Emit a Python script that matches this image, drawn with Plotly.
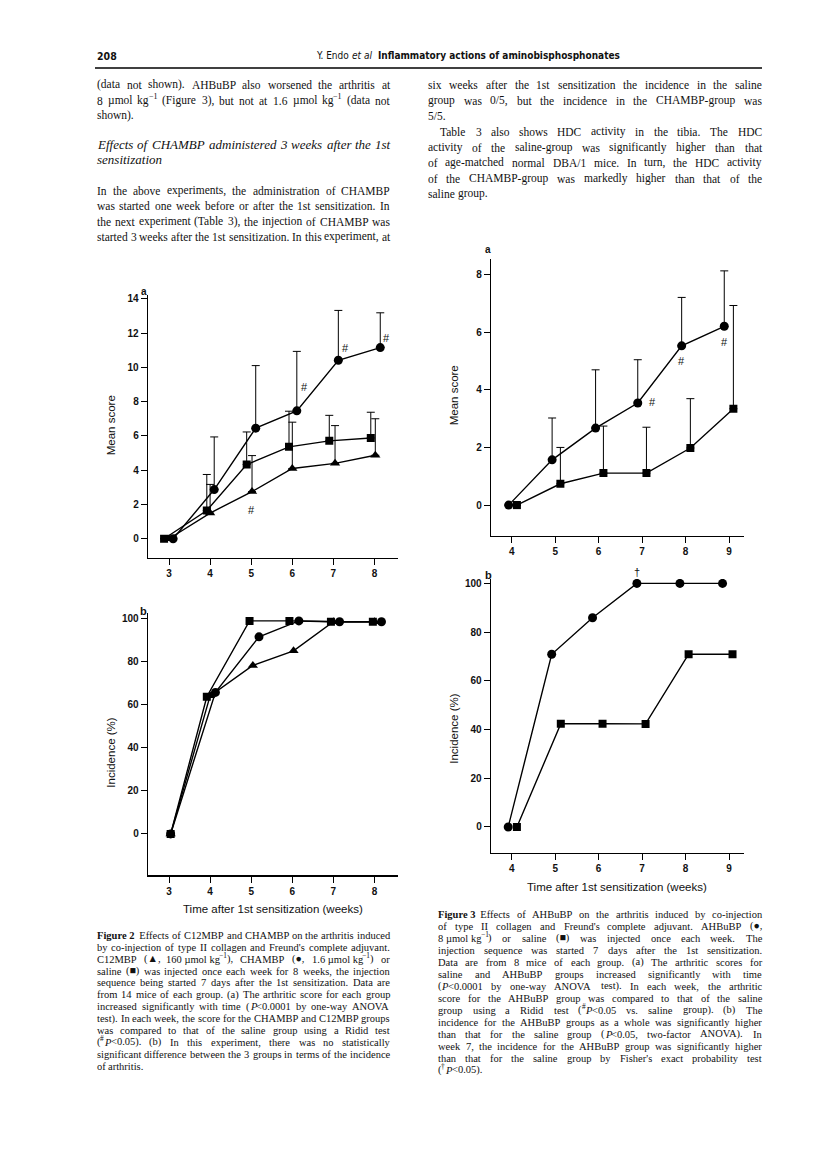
import re
import plotly.graph_objects as go

W, H = 816, 1151

def px(x):
    return x / W

def py(y):
    return 1 - y / H

# ---------------- DATA ----------------
# Figure 2 (14 mice per group)
weeks2 = [3, 4, 5, 6, 7, 8]
c12mbp_score = [0, 1.5, 2.75, 4.1, 4.4, 4.87]
c12mbp_err = [None, 1.67, 2.1, 2.7, 2.2, 2.13]
chambp_score = [0, 2.87, 6.45, 7.46, 10.41, 11.15]
chambp_err = [None, 3.07, 3.65, 3.47, 2.91, 2.03]
saline2_score = [0, 1.65, 4.33, 5.36, 5.71, 5.88]
saline2_err = [None, 2.1, 1.9, 2.08, 1.49, 1.5]

c12mbp_inc = [0, 64.1, 78.2, 85.0, 98.5, 98.5]
chambp_inc = [0, 65.7, 91.5, 98.9, 98.5, 98.5]
saline2_inc = [0, 63.7, 98.9, 98.9, 98.5, 98.5]

sig2_weeks = [5, 6, 7, 8]
sig2_vals = [1.65, 8.83, 11.1, 11.7]

# Figure 3 (8 mice per group)
weeks3 = [4, 5, 6, 7, 8, 9]
ahbubp_score = [0, 1.57, 2.67, 3.54, 5.52, 6.2]
ahbubp_err = [None, 1.45, 2.02, 1.5, 1.68, 1.92]
saline3_score = [0, 0.74, 1.11, 1.11, 1.98, 3.34]
saline3_err = [None, 1.26, 1.63, 1.59, 1.71, 3.58]

ahbubp_inc = [0, 70.9, 85.9, 100, 100, 100]
saline3_inc = [0, 42.4, 42.4, 42.3, 70.9, 70.9]

sig3_weeks = [7, 8, 9]
sig3_vals = [3.57, 5.0, 5.64]
dagger_week = 7
dagger_val = 104.5

x_ticks2 = [3, 4, 5, 6, 7, 8]
x_ticks3 = [4, 5, 6, 7, 8, 9]
score_ticks2 = [0, 2, 4, 6, 8, 10, 12, 14]
score_ticks3 = [0, 2, 4, 6, 8]
inc_ticks = [0, 20, 40, 60, 80, 100]

# small horizontal jitter (weeks) the original uses to separate symbols
J2A = {"tri": [0.0, 0.0, 0.02, 0.0, 0.04, 0.02],
       "circ": [0.1, 0.1, 0.11, 0.11, 0.12, 0.14],
       "sq": [-0.12, -0.08, -0.11, -0.08, -0.1, -0.09]}
J2B = {"tri": [0.04, 0.0, 0.04, 0.03, 0.0, 0.0],
       "circ": [0.04, 0.13, 0.19, 0.16, 0.15, 0.17],
       "sq": [0.04, -0.08, -0.04, -0.07, -0.06, -0.04]}
J3A = {"circ": [-0.07, -0.07, -0.07, -0.1, -0.09, -0.11],
       "sq": [0.12, 0.12, 0.11, 0.1, 0.11, 0.1]}
J3B = {"circ": [-0.08, -0.08, -0.14, -0.12, -0.13, -0.15],
       "sq": [0.12, 0.13, 0.09, 0.08, 0.07, 0.08]}

# ---------------- FIGURE ----------------
fig = go.Figure()
LINE = dict(color="black", width=1.4)


def shift(xs, d):
    return [x + o for x, o in zip(xs, d)]


def add_series(xs, ys, symbol, size, xa, ya, err=None):
    kw = {}
    if err is not None:
        kw["error_y"] = dict(type="data", symmetric=False, array=err,
                             arrayminus=[0] * len(err), color="black",
                             thickness=1, width=4)
    fig.add_trace(go.Scatter(x=xs, y=ys, mode="lines+markers", line=LINE,
                             marker=dict(symbol=symbol, size=size, color="black"),
                             xaxis=xa, yaxis=ya, showlegend=False,
                             hoverinfo="skip", **kw))

# 2a
add_series(shift(weeks2, J2A["tri"]), c12mbp_score, "triangle-up", 9, "x", "y", c12mbp_err)
add_series(shift(weeks2, J2A["sq"]), saline2_score, "square", 8, "x", "y", saline2_err)
add_series(shift(weeks2, J2A["circ"]), chambp_score, "circle", 9, "x", "y", chambp_err)
# 2b
add_series(shift(weeks2, J2B["tri"]), c12mbp_inc, "triangle-up", 9, "x2", "y2")
add_series(shift(weeks2, J2B["circ"]), chambp_inc, "circle", 9, "x2", "y2")
add_series(shift(weeks2, J2B["sq"]), saline2_inc, "square", 8, "x2", "y2")
# 3a
add_series(shift(weeks3, J3A["circ"]), ahbubp_score, "circle", 9, "x3", "y3", ahbubp_err)
add_series(shift(weeks3, J3A["sq"]), saline3_score, "square", 8, "x3", "y3", saline3_err)
# 3b
add_series(shift(weeks3, J3B["circ"]), ahbubp_inc, "circle", 9, "x4", "y4")
add_series(shift(weeks3, J3B["sq"]), saline3_inc, "square", 8, "x4", "y4")

TICKFONT = dict(family="Liberation Sans, Arial, sans-serif", size=10, color="#111",
                weight="bold")


def xax(dom, rng, ticks, anchor):
    return dict(domain=[px(dom[0]), px(dom[1])], range=rng, tickvals=ticks,
                showline=True, linecolor="black", linewidth=1.3, ticks="outside",
                ticklen=6, tickwidth=1, tickcolor="black", showgrid=False,
                zeroline=False, tickfont=TICKFONT, anchor=anchor, fixedrange=True)


def yax(dom, rng, ticks, anchor):
    return dict(domain=[py(dom[1]), py(dom[0])], range=rng, tickvals=ticks,
                showline=True, linecolor="black", linewidth=1.3, ticks="outside",
                ticklen=6, tickwidth=1, tickcolor="black", showgrid=False,
                zeroline=False, tickfont=TICKFONT, anchor=anchor, fixedrange=True)

X2 = (148, 398)
X3 = (491, 744)
xr2 = [2.489, 8.572]
xr3 = [3.524, 9.344]
Y4 = (578, 852)
yr4 = [-10.5, 101.8]

fig.update_layout(
    width=W, height=H, margin=dict(l=0, r=0, t=0, b=0),
    paper_bgcolor="white", plot_bgcolor="white",
    xaxis=xax(X2, xr2, x_ticks2, "y"),
    yaxis=yax((294, 557), [-1.124, 14.19], score_ticks2, "x"),
    xaxis2=xax(X2, xr2, x_ticks2, "y2"),
    yaxis2=yax((612, 875), [-19.3, 102.6], inc_ticks, "x2"),
    xaxis3=xax(X3, xr3, x_ticks3, "y3"),
    yaxis3=yax((257, 535), [-1.073, 8.547], score_ticks3, "x3"),
    xaxis4=xax(X3, xr3, x_ticks3, "y4"),
    yaxis4=yax(Y4, yr4, inc_ticks, "x4"),
)

ann = []
SANS = "Liberation Sans, Arial, sans-serif"
SERIF = "Liberation Serif, Times New Roman, serif"


def text(x, y, t, size=11.5, family=SERIF, xanchor="left", color="#111", angle=0,
         italic=False, bold=False):
    ann.append(dict(x=px(x), y=py(y), xref="paper", yref="paper", text=t,
                    showarrow=False, xanchor=xanchor, yanchor="middle",
                    font=dict(family=family, size=size, color=color,
                              style="italic" if italic else "normal",
                              weight="bold" if bold else "normal"),
                    textangle=angle, borderpad=0, borderwidth=0))

# Times / Liberation Serif advance widths (em)
TW = {}
for chars, w in [("ace", .444), ("bdghknopquvxy", .5), ("f", .333), ("ijlt", .278),
                 ("m", .778), ("r", .333), ("s", .389), ("w", .722), ("z", .444),
                 ("ADGHKNOQUVXY", .722), ("BCR", .667), ("ELTZ", .611), ("FPS", .556),
                 ("I", .333), ("J", .389), ("M", .889), ("W", .944),
                 ("0123456789", .5), (" .,\u00a0", .25), ("()-", .333), ("/:;", .278),
                 ("'", .18), ("µ#†", .5), ("−<", .564), ("▲", .77), ("●■", .6)]:
    for c in chars:
        TW[c] = w
TWI = dict(TW)
for chars, w in [("ABEFPR", .611), ("C", .667), ("H", .722), ("M", .833), ("N", .667),
                 ("S", .5), ("T", .556), ("W", .833), ("a", .5), ("fr", .3),
                 ("kvxy", .444), ("m", .722), ("w", .667), ("z", .389)]:
    for c in chars:
        TWI[c] = w


def segments(word, italic=False, bold=False):
    segs, sup = [], False
    for tok in re.split(r"(<[^>]+>)", word):
        if tok == "<sup>":
            sup = True
        elif tok == "</sup>":
            sup = False
        elif tok == "<i>":
            italic = True
        elif tok == "</i>":
            italic = False
        elif tok == "<b>":
            bold = True
        elif tok == "</b>":
            bold = False
        elif tok:
            segs.append((tok, italic, bold, sup))
    return segs


def seg_width(seg, size):
    t, it, bd, sp = seg
    table = TWI if it else TW
    w = sum(table.get(c, 0.5) for c in t.replace("&lt;", "<")) * size
    if bd:
        w *= 1.06
    if sp:
        w *= 0.7
    return w


def word_width(word, size, italic=False):
    return sum(seg_width(s, size) for s in segments(word, italic))


def draw_word(x, y, word, size, italic=False):
    for seg in segments(word, italic):
        t, it, bd, sp = seg
        s = size * 0.7 if sp else size
        text(x, y - (0.38 * size if sp else 0), t, s, italic=it, bold=bd)
        x += seg_width(seg, size)


def para(x0, x1, y, line, size, justify=True, italic=False):
    words = line.split(" ")
    widths = [word_width(w, size, italic) for w in words]
    if justify and len(words) > 1:
        gap = (x1 - x0 - sum(widths)) / (len(words) - 1)
    else:
        gap = 0.25 * size
    x = x0
    for w, wd in zip(words, widths):
        draw_word(x, y, w, size, italic)
        x += wd + gap

# significance marks
for wk, v in zip(sig2_weeks, sig2_vals):
    ann.append(dict(x=wk + 0.3 if wk > 5 else wk, y=v, xref="x", yref="y", text="#",
                    showarrow=False, font=dict(family=SANS, size=11, color="#111")))
for wk, v in zip(sig3_weeks, sig3_vals):
    ann.append(dict(x=wk + (0.24 if wk == 7 else -0.1), y=v, xref="x3", yref="y3", text="#",
                    showarrow=False, font=dict(family=SANS, size=11, color="#111")))
# dagger sits just above the top of panel 3b's value range -> position via paper coords
dag_y = py(Y4[1]) + (dagger_val - yr4[0]) / (yr4[1] - yr4[0]) * (py(Y4[0]) - py(Y4[1]))
ann.append(dict(x=dagger_week - 0.12, y=dag_y, xref="x4", yref="paper", text="†",
                showarrow=False, font=dict(family=SANS, size=11, color="#111")))

# panel letters
text(147, 290, "a", 10, SANS, "right", bold=True)
text(147, 610, "b", 11, SANS, "right", bold=True)
text(491, 248, "a", 10, SANS, "right", bold=True)
text(492, 574, "b", 11, SANS, "right", bold=True)

# axis titles
text(111, 424, "Mean score", 11.5, SANS, "center", angle=-90)
text(111, 752, "Incidence (%)", 11.5, SANS, "center", angle=-90)
text(454, 394, "Mean score", 11.5, SANS, "center", angle=-90)
text(454, 728, "Incidence (%)", 11.5, SANS, "center", angle=-90)
text(273, 909, "Time after 1st sensitization (weeks)", 11.5, SANS, "center")
text(617, 887, "Time after 1st sensitization (weeks)", 11.5, SANS, "center")

# header
HDR = "Liberation Sans Narrow, DejaVu Sans Condensed, Arial Narrow, sans-serif"
text(97, 54, "208", 10.5, HDR, bold=True)
text(349, 54, "Y. Endo", 10, HDR, "right")
text(352, 54, "et al", 10, HDR, "left", italic=True)
text(378, 54, "Inflammatory actions of aminobisphosphonates", 10, HDR, bold=True)

# body text
LX0, LX1 = 97, 390
RX0, RX1 = 428, 762
left_lines = [
    (83, LX0, True, "(data not shown). AHBuBP also worsened the arthritis at"),
    (99, LX0, True, "8 µmol kg<sup>−1</sup> (Figure 3), but not at 1.6 µmol kg<sup>−1</sup> (data not"),
    (114, LX0, False, "shown)."),
    (189, LX0, True, "In the above experiments, the administration of CHAMBP"),
    (204, LX0, True, "was started one week before or after the 1st sensitization. In"),
    (220, LX0, True, "the next experiment (Table 3), the injection of CHAMBP was"),
    (235, LX0, True, "started 3 weeks after the 1st sensitization. In this experiment, at"),
]
for y, x, j, t in left_lines:
    para(x, LX1, y, t, 11.5, j)
para(LX0, LX1, 143, "Effects of CHAMBP administered 3 weeks after the 1st", 13, True, True)
para(LX0, LX1, 158, "sensitization", 13, False, True)

right_lines = [
    (83, RX0, True, "six weeks after the 1st sensitization the incidence in the saline"),
    (99, RX0, True, "group was 0/5, but the incidence in the CHAMBP-group was"),
    (114, RX0, False, "5/5."),
    (130, 440, True, "Table 3 also shows HDC activity in the tibia. The HDC"),
    (146, RX0, True, "activity of the saline-group was significantly higher than that"),
    (161, RX0, True, "of age-matched normal DBA/1 mice. In turn, the HDC activity"),
    (177, RX0, True, "of the CHAMBP-group was markedly higher than that of the"),
    (192, RX0, False, "saline group."),
]
for y, x, j, t in right_lines:
    para(x, RX1, y, t, 11.5, j)

# captions
cap2 = [
    "<b>Figure\u00a02</b>\u00a0\u00a0Effects of C12MBP and CHAMBP on the arthritis induced",
    "by co-injection of type II collagen and Freund's complete adjuvant.",
    "C12MBP (▲, 160\u00a0µmol\u00a0kg<sup>−1</sup>), CHAMBP (●, 1.6\u00a0µmol\u00a0kg<sup>−1</sup>) or",
    "saline (■) was injected once each week for 8 weeks, the injection",
    "sequence being started 7 days after the 1st sensitization. Data are",
    "from 14 mice of each group. (a) The arthritic score for each group",
    "increased significantly with time (<i>P</i>&lt;0.0001 by one-way ANOVA",
    "test). In each week, the score for the CHAMBP and C12MBP groups",
    "was compared to that of the saline group using a Ridid test",
    "(<sup>#</sup><i>P</i>&lt;0.05). (b) In this experiment, there was no statistically",
    "significant difference between the 3 groups in terms of the incidence",
    "of arthritis.",
]
for i, t in enumerate(cap2):
    para(LX0, LX1, 935 + 11.9 * i, t, 10.5, i < len(cap2) - 1)

cap3 = [
    "<b>Figure\u00a03</b>\u00a0\u00a0Effects of AHBuBP on the arthritis induced by co-injection",
    "of type II collagen and Freund's complete adjuvant. AHBuBP (●,",
    "8\u00a0µmol\u00a0kg<sup>−1</sup>) or saline (■) was injected once each week. The",
    "injection sequence was started 7 days after the 1st sensitization.",
    "Data are from 8 mice of each group. (a) The arthritic scores for",
    "saline and AHBuBP groups increased significantly with time",
    "(<i>P</i>&lt;0.0001 by one-way ANOVA test). In each week, the arthritic",
    "score for the AHBuBP group was compared to that of the saline",
    "group using a Ridid test (<sup>#</sup><i>P</i>&lt;0.05 vs. saline group). (b) The",
    "incidence for the AHBuBP groups as a whole was significantly higher",
    "than that for the saline group (<i>P</i>&lt;0.05, two-factor ANOVA). In",
    "week 7, the incidence for the AHBuBP group was significantly higher",
    "than that for the saline group by Fisher's exact probability test",
    "(<sup>†</sup><i>P</i>&lt;0.05).",
]
for i, t in enumerate(cap3):
    para(438, RX1, 914 + 12 * i, t, 10.5, i < len(cap3) - 1)

fig.update_layout(annotations=ann)
fig.add_shape(type="line", xref="paper", yref="paper", x0=px(95), x1=px(762),
              y0=py(66), y1=py(66), line=dict(color="black", width=1.5))

fig.write_html("out.html", config={"displayModeBar": False, "staticPlot": True},
               post_script="document.body.style.margin='0';")
